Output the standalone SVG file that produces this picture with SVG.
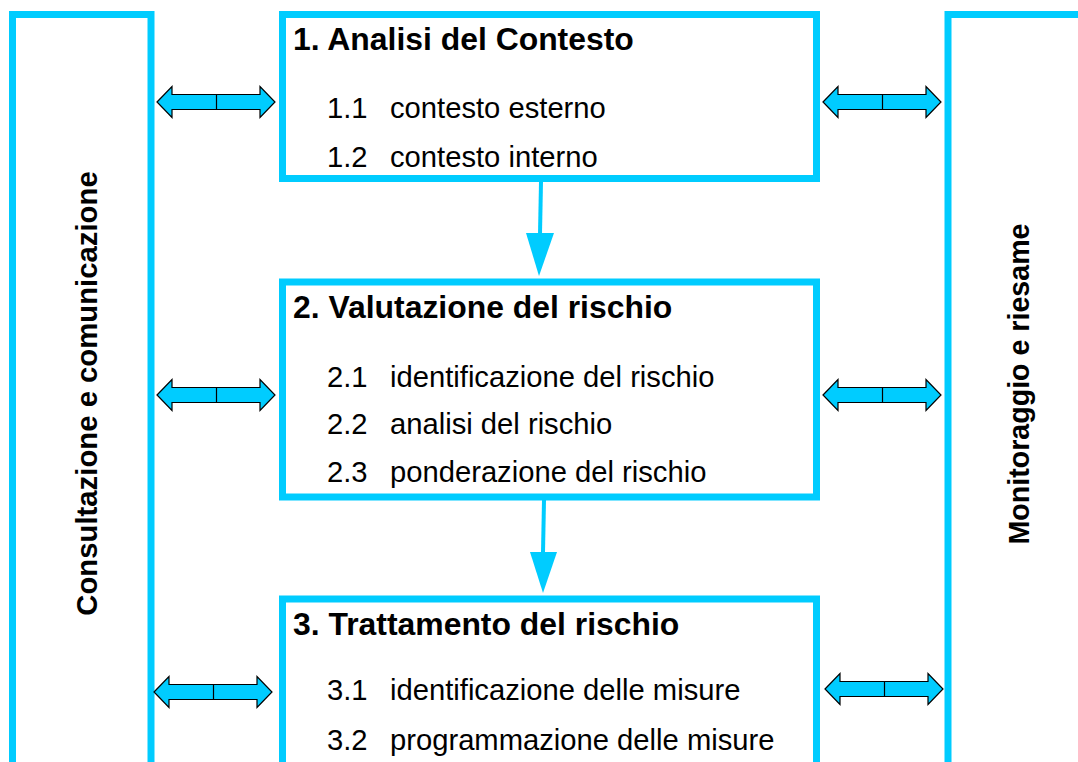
<svg xmlns="http://www.w3.org/2000/svg" width="1078" height="762" viewBox="0 0 1078 762">
<style>
.frame{fill:#fff;stroke:#00CCFF;stroke-width:7}
.title{font-family:"Liberation Sans",Arial,sans-serif;font-weight:bold;font-size:31.9px;fill:#000}
.item{font-family:"Liberation Sans",Arial,sans-serif;font-size:29.2px;fill:#000}
.side{font-family:"Liberation Sans",Arial,sans-serif;font-weight:bold;fill:#000}
.dbl{fill:#00CCFF;stroke:#000;stroke-width:1.2;stroke-linejoin:miter}
.div{stroke:#000;stroke-width:1.2}
.down{stroke:#00CCFF;stroke-width:4;fill:none}
.head{fill:#00CCFF}
</style>
<defs>
<g id="dblarrow">
<path class="dbl" d="M0,0 L15,-15.5 L15,-7.5 L103,-7.5 L103,-15.5 L118,0 L103,15.5 L103,7.5 L15,7.5 L15,15.5 Z"/>
<path class="div" d="M59.5,-7.5 V7.5"/>
</g>
</defs>
<rect width="1078" height="762" fill="#fff"/>
<g id="consultazione">
<rect class="frame" x="12.5" y="14.5" width="138.5" height="800"/>
<text class="side" font-size="29.3" transform="translate(97,393.5) rotate(-90)" text-anchor="middle">Consultazione e comunicazione</text>
</g>
<g id="monitoraggio">
<rect class="frame" x="948" y="14.5" width="200" height="800"/>
<text class="side" font-size="28.6" transform="translate(1029,384) rotate(-90)" text-anchor="middle">Monitoraggio e riesame</text>
</g>
<g id="box1">
<rect class="frame" x="282.5" y="14.5" width="534" height="164"/>
<text class="title" x="293" y="50">1. Analisi del Contesto</text>
<text class="item" x="327" y="118">1.1</text>
<text class="item" x="390" y="118">contesto esterno</text>
<text class="item" x="327" y="167">1.2</text>
<text class="item" x="390" y="167">contesto interno</text>
</g>
<g id="box2">
<rect class="frame" x="282.5" y="282" width="534" height="215"/>
<text class="title" x="293" y="318">2. Valutazione del rischio</text>
<text class="item" x="327" y="387">2.1</text>
<text class="item" x="390" y="387">identificazione del rischio</text>
<text class="item" x="327" y="434">2.2</text>
<text class="item" x="390" y="434">analisi del rischio</text>
<text class="item" x="327" y="482">2.3</text>
<text class="item" x="390" y="482">ponderazione del rischio</text>
</g>
<g id="box3">
<rect class="frame" x="282.5" y="599" width="534" height="220"/>
<text class="title" x="293" y="635">3. Trattamento del rischio</text>
<text class="item" x="327" y="700">3.1</text>
<text class="item" x="390" y="700">identificazione delle misure</text>
<text class="item" x="327" y="750">3.2</text>
<text class="item" x="390" y="750">programmazione delle misure</text>
</g>
<g id="connectors">
<path class="down" d="M541,182 L540,234"/>
<polygon class="head" points="526,233 554,233 539,276"/>
<path class="down" d="M544,500 L543,553"/>
<polygon class="head" points="530,552 557,552 543,593"/>
<use href="#dblarrow" transform="translate(157,102)"/>
<use href="#dblarrow" transform="translate(823,102)"/>
<use href="#dblarrow" transform="translate(157,395)"/>
<use href="#dblarrow" transform="translate(823,395)"/>
<use href="#dblarrow" transform="translate(154,692)"/>
<use href="#dblarrow" transform="translate(825,689)"/>
</g>
</svg>
